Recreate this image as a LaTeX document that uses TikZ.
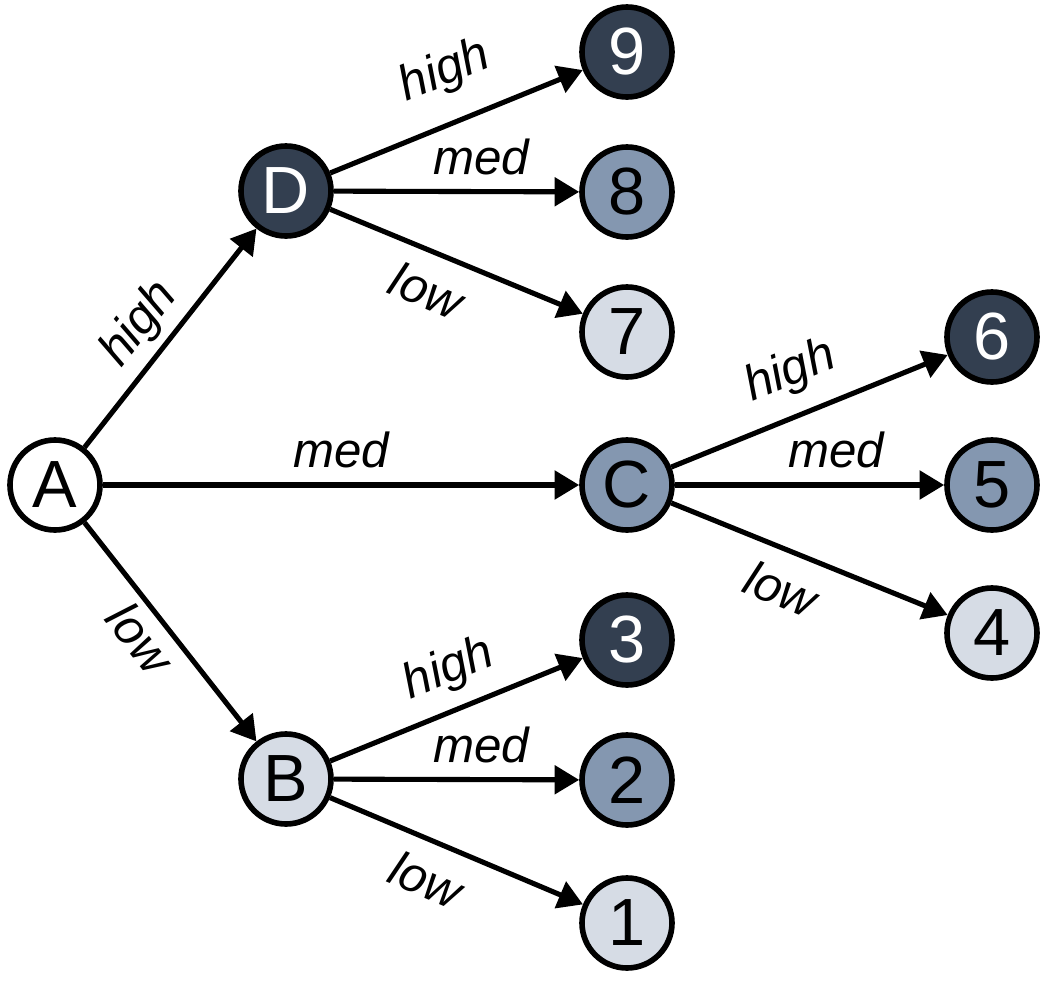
\documentclass[tikz,border=0pt]{standalone}
\usepackage{fontspec}
\setmainfont{Liberation Sans}
\usetikzlibrary{arrows.meta}
\definecolor{darkn}{HTML}{333F50}
\definecolor{medn}{HTML}{8497B0}
\definecolor{lightn}{HTML}{D6DCE5}
\tikzset{
  st/.style={circle, draw=black, line width=1.6pt, minimum size=0.90cm, inner sep=0pt,
    font=\fontsize{19}{21}\selectfont},
  dk/.style={st, fill=darkn, text=white},
  md/.style={st, fill=medn},
  lt/.style={st, fill=lightn},
  wt/.style={st, fill=white},
  arr/.style={-{Triangle[length=7pt,width=8pt]}, line width=1.45pt},
  lab/.style={font=\fontsize{14}{16}\selectfont\itshape, inner sep=2pt, sloped},
}
\begin{document}
\begin{tikzpicture}
\useasboundingbox (0,0) rectangle (10.5,9.8);
\node[wt] (A) at (0.55,4.95) {A};
\node[dk] (D) at (2.86,7.89) {D};
\node[lt] (B) at (2.86,2.01) {B};
\node[md] (C) at (6.27,4.95) {C};
\node[dk] (n9) at (6.27,9.28) {9};
\node[md] (n8) at (6.27,7.88) {8};
\node[lt] (n7) at (6.27,6.48) {7};
\node[dk] (n3) at (6.27,3.40) {3};
\node[md] (n2) at (6.27,2.00) {2};
\node[lt] (n1) at (6.27,0.57) {1};
\node[dk] (n6) at (9.92,6.43) {6};
\node[md] (n5) at (9.92,4.95) {5};
\node[lt] (n4) at (9.92,3.47) {4};
\draw[arr] (A) -- node[lab, above, pos=0.47] {high} (D);
\draw[arr] (A) -- node[lab, above=2pt] {med} (C);
\draw[arr] (A) -- node[lab, below, pos=0.45] {low} (B);
\draw[arr] (D) -- node[lab, above=5pt, pos=0.53] {high} (n9);
\draw[arr] (D) -- node[lab, above=2pt, pos=0.6] {med} (n8);
\draw[arr] (D) -- node[lab, below=3pt, pos=0.44] {low} (n7);
\draw[arr] (C) -- node[lab, above=3pt, pos=0.49] {high} (n6);
\draw[arr] (C) -- node[lab, above=2pt, pos=0.6] {med} (n5);
\draw[arr] (C) -- node[lab, below=3pt, pos=0.45] {low} (n4);
\draw[arr] (B) -- node[lab, above=2pt, pos=0.53] {high} (n3);
\draw[arr] (B) -- node[lab, above=2pt, pos=0.6] {med} (n2);
\draw[arr] (B) -- node[lab, below=3pt, pos=0.44] {low} (n1);
\end{tikzpicture}
\end{document}
